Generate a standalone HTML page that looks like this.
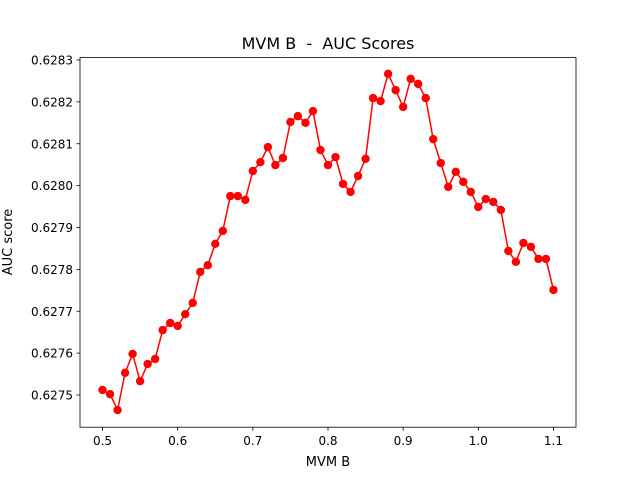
<!DOCTYPE html>
<html><head><meta charset="utf-8"><style>
body{margin:0;background:#fff;}
svg{display:block;font-family:"DejaVu Sans","Liberation Sans",sans-serif;}
</style></head><body>
<svg id="chart" width="640" height="480" viewBox="0 0 640 480">
<rect width="640" height="480" fill="#fff"/>
<text x="328" y="49" font-size="16" text-anchor="middle" style="white-space:pre" xml:space="preserve">MVM B  -  AUC Scores</text>
<g id="ticks"></g>
<path id="line" fill="none" stroke="#ff0000" stroke-width="1.5"/>
<g id="pts"></g>
<rect x="80" y="57.6" width="496" height="369.6" fill="none" stroke="#000" stroke-width="0.8"/>
<text x="328" y="466" font-size="13" text-anchor="middle">MVM B</text>
<text transform="translate(12,242) rotate(-90)" font-size="13" text-anchor="middle">AUC score</text>
</svg>
<script>
const xStart = 0.50, xStep = 0.01;
const aucValues = [0.627512,0.627502,0.627464,0.627553,0.627598,0.627533,0.627574,0.627586,0.627655,0.627672,
0.627665,0.627693,0.627720,0.627794,0.627810,0.627861,0.627892,0.627975,0.627975,0.627966,
0.628035,0.628056,0.628092,0.628049,0.628066,0.628152,0.628166,0.628150,0.628178,0.628085,
0.628049,0.628068,0.628004,0.627985,0.628023,0.628064,0.628209,0.628202,0.628267,0.628228,
0.628188,0.628255,0.628243,0.628209,0.628111,0.628054,0.627997,0.628033,0.628009,0.627985,
0.627949,0.627968,0.627961,0.627942,0.627844,0.627818,0.627863,0.627854,0.627825,0.627825,0.627751];
const xTicks = [0.5,0.6,0.7,0.8,0.9,1.0,1.1];
const xTickLabels = ["0.5","0.6","0.7","0.8","0.9","1.0","1.1"];
const yTicks = [0.6275,0.6276,0.6277,0.6278,0.6279,0.6280,0.6281,0.6282,0.6283];
const yTickLabels = ["0.6275","0.6276","0.6277","0.6278","0.6279","0.6280","0.6281","0.6282","0.6283"];
const NS="http://www.w3.org/2000/svg";
const X0=80,X1=576,Y0=57.6,Y1=427.2;
const xMin=0.47,xMax=1.13;
const yMin=0.6275-32.2*0.0001/41.875, yMax=0.6283+2.4*0.0001/41.875;
const sx=v=>X0+(v-xMin)/(xMax-xMin)*(X1-X0);
const sy=v=>Y1-(v-yMin)/(yMax-yMin)*(Y1-Y0);
const tg=document.getElementById('ticks');
xTicks.forEach((t,i)=>{
 const l=document.createElementNS(NS,'line');
 l.setAttribute('x1',sx(t));l.setAttribute('x2',sx(t));l.setAttribute('y1',Y1);l.setAttribute('y2',Y1+3.5);
 l.setAttribute('stroke','#000');l.setAttribute('stroke-width','0.8');
 
 
 tg.appendChild(l);
 const tx=document.createElementNS(NS,'text');
 tx.setAttribute('x',sx(t));tx.setAttribute('y',Y1+18);tx.setAttribute('font-size','12');tx.setAttribute('text-anchor','middle');
 tx.textContent=xTickLabels[i];
 
 
 tg.appendChild(tx);
});
yTicks.forEach((t,i)=>{
 const l=document.createElementNS(NS,'line');
 l.setAttribute('x1',X0-3.5);l.setAttribute('x2',X0);l.setAttribute('y1',sy(t));l.setAttribute('y2',sy(t));
 l.setAttribute('stroke','#000');l.setAttribute('stroke-width','0.8');
 
 
 tg.appendChild(l);
 const tx=document.createElementNS(NS,'text');
 tx.setAttribute('x',X0-7);tx.setAttribute('y',sy(t)+4.5);tx.setAttribute('font-size','12');tx.setAttribute('text-anchor','end');
 tx.textContent=yTickLabels[i];
 
 
 tg.appendChild(tx);
});
let d='';
const pg=document.getElementById('pts');
aucValues.forEach((v,i)=>{
 const x=sx(xStart+i*xStep),y=sy(v);
 d+=(i?'L':'M')+x.toFixed(2)+' '+y.toFixed(2);
 const c=document.createElementNS(NS,'circle');
 c.setAttribute('cx',x);c.setAttribute('cy',y);c.setAttribute('r','4.2');c.setAttribute('fill','#ff0000');
 
 
 pg.appendChild(c);
});
document.getElementById('line').setAttribute('d',d);
</script>
</body></html>
